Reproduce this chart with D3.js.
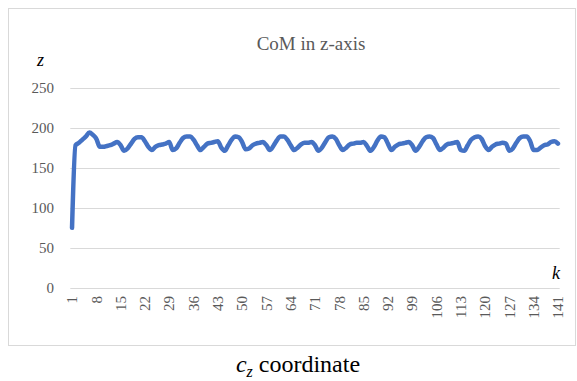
<!DOCTYPE html>
<html>
<head>
<meta charset="utf-8">
<script src="https://cdn.jsdelivr.net/npm/d3@7"></script>
<style>
  html, body { margin: 0; padding: 0; background: #fff; }
  svg { display: block; }
  svg text { font-family: "Liberation Serif", "Times New Roman", serif; }
</style>
</head>
<body>
<svg id="chart" width="577" height="381"></svg>
<script>
// Sample index k (1..141)
const steps = d3.range(1, 142);

// Centre of mass, z component, per step
const comZ = [
  75, 178, 181, 185, 189, 194, 191, 186, 176, 176,
  177, 178, 180, 182, 178, 171, 174, 180, 186, 188,
  188, 183, 176, 172, 176, 178, 179, 180, 182, 172,
  174, 181, 187, 189, 189, 185, 178, 172, 176, 180,
  181, 182, 183, 175, 171, 178, 185, 189, 188, 182,
  173, 174, 178, 180, 181, 182, 178, 172, 177, 184,
  189, 189, 185, 178, 172, 175, 179, 181, 181, 182,
  178, 171, 175, 182, 188, 189, 186, 178, 172, 175,
  179, 180, 181, 181, 182, 177, 171, 176, 184, 189,
  188, 180, 172, 176, 179, 180, 181, 182, 178, 171,
  176, 183, 188, 189, 187, 179, 172, 175, 179, 180,
  181, 182, 172, 171, 178, 185, 188, 189, 186, 177,
  172, 176, 179, 180, 181, 180, 171, 174, 181, 187,
  189, 189, 183, 172, 172, 175, 178, 179, 182, 183,
  180
];

const yTicks = [0, 50, 100, 150, 200, 250];
const xTickLabels = steps.filter(k => (k - 1) % 7 === 0);

const svg = d3.select("#chart");
const grey = "#595959";

// Chart frame
svg.append("rect")
  .attr("x", 8.5).attr("y", 8.5)
  .attr("width", 567).attr("height", 337)
  .attr("fill", "#fff")
  .attr("stroke", "#d9d9d9").attr("stroke-width", 1);

const x = d3.scaleBand().domain(steps).range([70.3, 559.7]);
const y = d3.scaleLinear().domain([0, 250]).range([288, 87.5]);
const cx = k => x(k) + x.bandwidth() / 2;

// Horizontal gridlines
svg.append("g")
  .selectAll("line")
  .data(yTicks)
  .join("line")
  .attr("x1", x.range()[0]).attr("x2", x.range()[1])
  .attr("y1", d => Math.round(y(d)) + 0.5)
  .attr("y2", d => Math.round(y(d)) + 0.5)
  .attr("stroke", "#d9d9d9").attr("stroke-width", 1);

// Y tick labels
svg.append("g")
  .selectAll("text")
  .data(yTicks)
  .join("text")
  .attr("x", 54)
  .attr("y", d => y(d))
  .attr("dy", "0.35em")
  .attr("text-anchor", "end")
  .attr("font-size", 15)
  .attr("fill", grey)
  .text(d => d);

// X tick labels, rotated
svg.append("g")
  .selectAll("text")
  .data(xTickLabels)
  .join("text")
  .attr("transform", d => `translate(${cx(d)},296) rotate(-90)`)
  .attr("dy", "0.35em")
  .attr("text-anchor", "end")
  .attr("font-size", 15)
  .attr("fill", grey)
  .text(d => d);

// Series line
const line = d3.line()
  .x((d, i) => cx(steps[i]))
  .y(d => y(d))
  .curve(d3.curveMonotoneX);

svg.append("path")
  .datum(comZ)
  .attr("d", line)
  .attr("fill", "none")
  .attr("stroke", "#4472C4")
  .attr("stroke-width", 4.5)
  .attr("stroke-linejoin", "round")
  .attr("stroke-linecap", "round");

// Title
svg.append("text")
  .attr("x", 311).attr("y", 50)
  .attr("text-anchor", "middle")
  .attr("font-size", 19)
  .attr("fill", grey)
  .text("CoM in z-axis");

// Axis letters
svg.append("text")
  .attr("x", 37).attr("y", 66)
  .attr("font-style", "italic")
  .attr("font-size", 18)
  .attr("fill", "#000")
  .text("z");

svg.append("text")
  .attr("x", 552).attr("y", 279)
  .attr("font-style", "italic")
  .attr("font-size", 18)
  .attr("fill", "#000")
  .text("k");

// Caption below the frame
const cap = svg.append("text")
  .attr("x", 298).attr("y", 372)
  .attr("text-anchor", "middle")
  .attr("font-size", 24)
  .attr("fill", "#000");
cap.append("tspan").attr("font-style", "italic").text("c");
cap.append("tspan").attr("font-style", "italic").attr("font-size", 16).attr("dy", 5).text("z");
cap.append("tspan").attr("dy", -5).text(" coordinate");
</script>
</body>
</html>
